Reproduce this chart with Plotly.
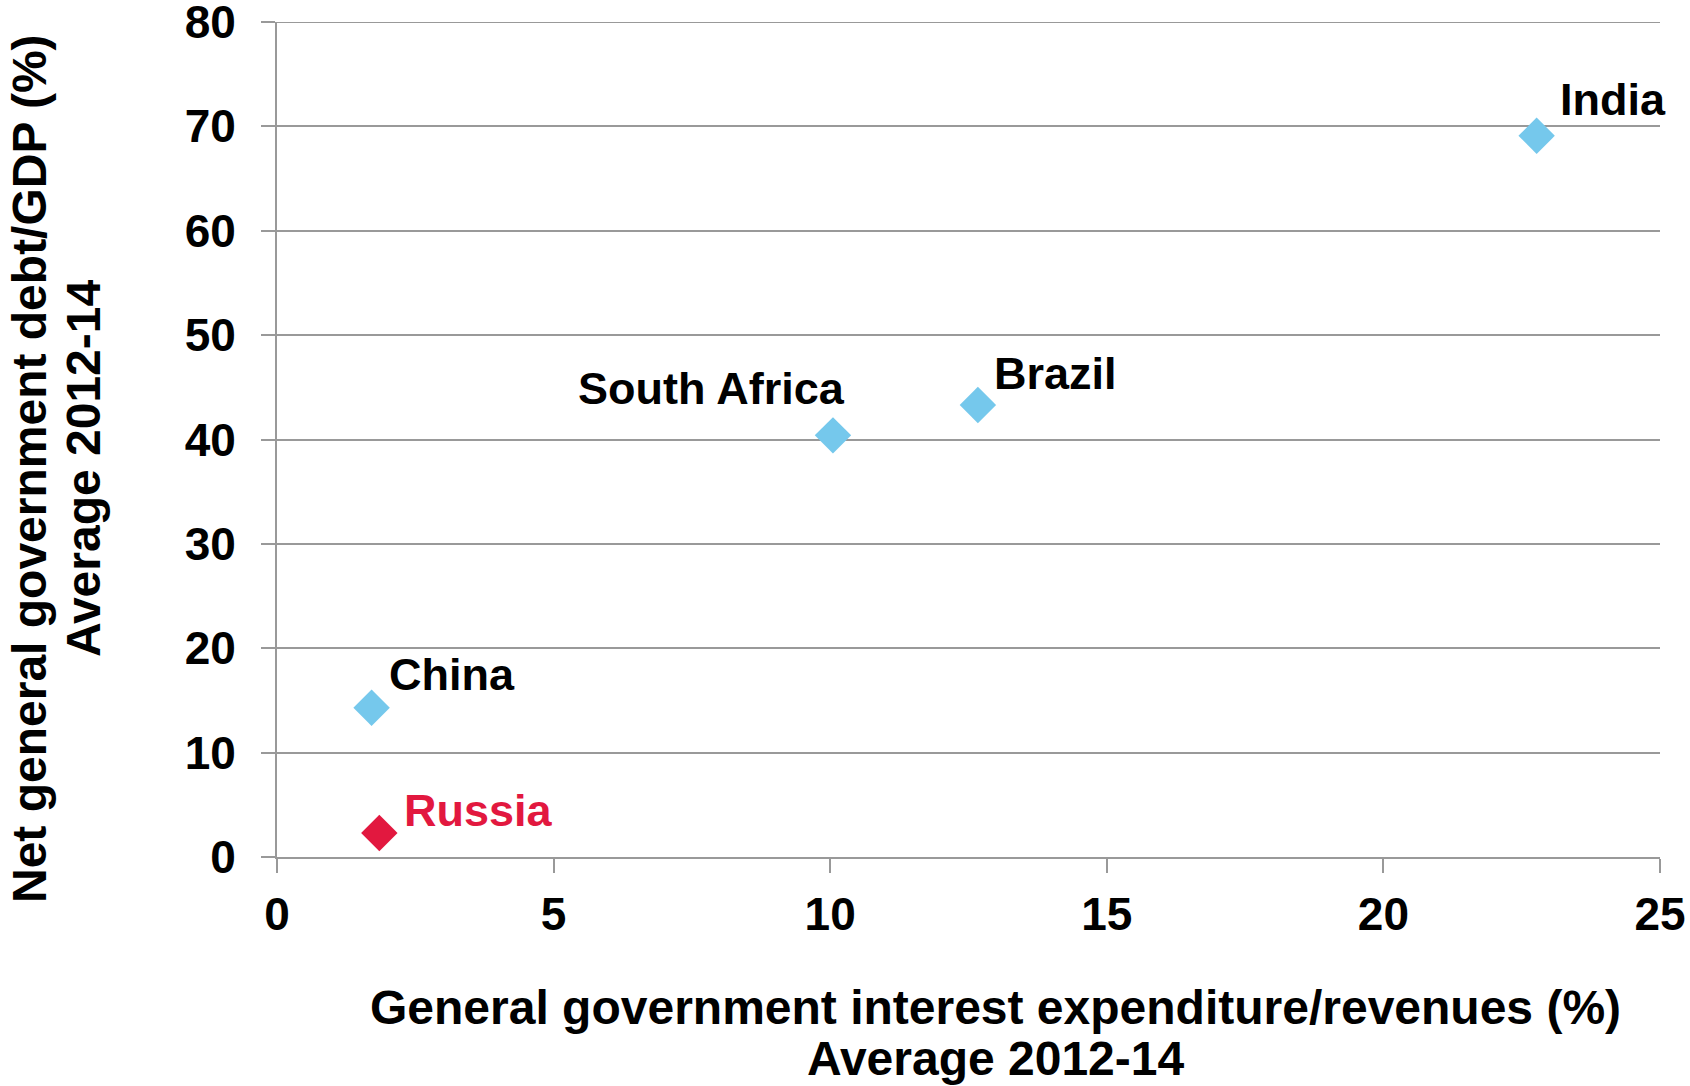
import plotly.graph_objects as go

countries = ["India", "Brazil", "South Africa", "China", "Russia"]
interest_rev = [22.77, 12.67, 10.05, 1.71, 1.85]
debt_gdp = [69.1, 43.3, 40.4, 14.3, 2.3]
colors = ["#75C8EC", "#75C8EC", "#75C8EC", "#75C8EC", "#E2183F"]
label_colors = ["#000000", "#000000", "#000000", "#000000", "#E2183F"]

x_ticks = [0, 5, 10, 15, 20, 25]
y_ticks = [0, 10, 20, 30, 40, 50, 60, 70, 80]

x_title = ["General government interest expenditure/revenues (%)", "Average 2012-14"]
y_title = ["Net general government debt/GDP (%)", "Average 2012-14"]

FONT = "Liberation Sans, Arial, sans-serif"
W, H = 1690, 1086
L, R, T, B = 277, 30, 22, 229
PW, PH = W - L - R, H - T - B

fig = go.Figure()
fig.add_trace(go.Scatter(
    x=interest_rev, y=debt_gdp, mode="markers",
    marker=dict(symbol="diamond", size=28, color=colors, line=dict(width=0)),
    showlegend=False, hoverinfo="skip", cliponaxis=False,
))

# top gridline (plotly omits a gridline at the very edge of the range)
fig.add_shape(type="line", xref="paper", yref="y", x0=0, x1=1,
              y0=y_ticks[-1], y1=y_ticks[-1],
              line=dict(color="#999999", width=2), layer="below")

# label offsets (pixels) relative to the point
offsets = {
    "India": ("left", 21, 36),
    "Brazil": ("left", 14, 32),
    "South Africa": ("right", 14, 47),
    "China": ("left", 15, 33),
    "Russia": ("left", 23, 22),
}
for name, xv, yv, c in zip(countries, interest_rev, debt_gdp, label_colors):
    anchor, xs, ys = offsets[name]
    fig.add_annotation(
        x=xv, y=yv, text=name, showarrow=False, xanchor=anchor, yanchor="middle",
        xshift=xs, yshift=ys,
        font=dict(family=FONT, size=45, color=c, weight="bold"),
    )

# axis titles (one annotation per line for tight line spacing)
for txt, cy in zip(x_title, [1007, 1058]):
    fig.add_annotation(
        xref="paper", yref="paper", x=(995 - L) / PW, y=-(cy - (H - B)) / PH,
        text=txt, showarrow=False, xanchor="center", yanchor="middle",
        font=dict(family=FONT, size=48, color="#000", weight="bold"),
    )
for txt, cx in zip(y_title, [30, 84]):
    fig.add_annotation(
        xref="paper", yref="paper", x=-(L - cx) / PW, y=((H - B) - 469) / PH,
        text=txt, showarrow=False, xanchor="center", yanchor="middle", textangle=-90,
        font=dict(family=FONT, size=48, color="#000", weight="bold"),
    )

fig.update_layout(
    width=W, height=H,
    margin=dict(l=L, r=R, t=T, b=B, autoexpand=False),
    paper_bgcolor="white", plot_bgcolor="white",
    font=dict(family=FONT, color="#000"),
)
fig.update_xaxes(
    range=[0, 25], tickvals=x_ticks, ticktext=[str(v) for v in x_ticks],
    showgrid=False, zeroline=False, automargin=False,
    showline=True, linecolor="#999999", linewidth=2,
    ticks="outside", ticklen=14, tickwidth=2, tickcolor="#999999",
    ticklabelstandoff=2, ticklabeloverflow="allow",
    tickfont=dict(family=FONT, size=46, color="#000", weight="bold"),
)
fig.update_yaxes(
    range=[0, 80], tickvals=y_ticks, ticktext=[str(v) for v in y_ticks],
    showgrid=True, gridcolor="#999999", gridwidth=2, zeroline=False, automargin=False,
    showline=True, linecolor="#999999", linewidth=2,
    ticks="outside", ticklen=14, tickwidth=2, tickcolor="#999999",
    ticklabelstandoff=16, ticklabeloverflow="allow",
    tickfont=dict(family=FONT, size=46, color="#000", weight="bold"),
)

fig.write_html("out.html")
